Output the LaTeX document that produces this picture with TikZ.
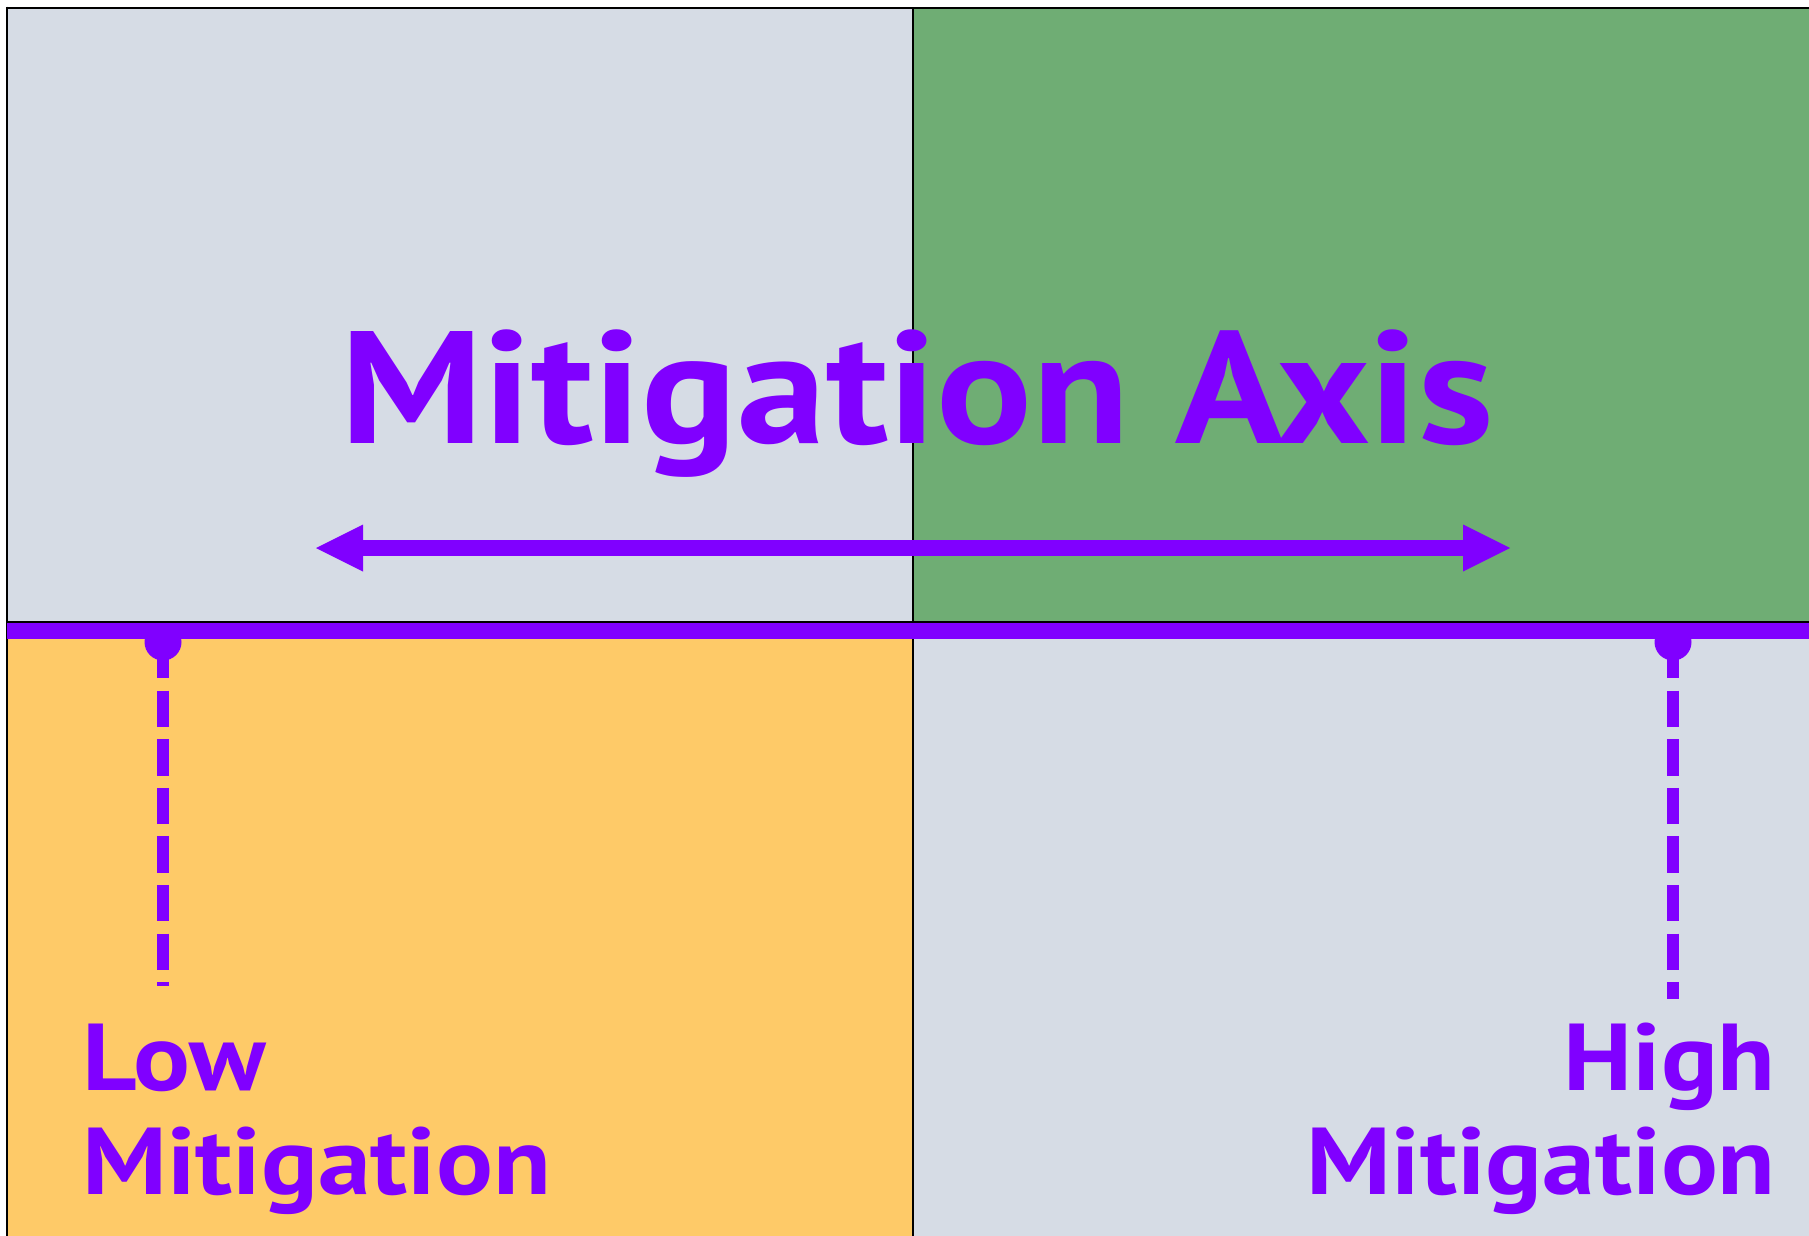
\documentclass[tikz,border=0pt]{standalone}
\usepackage{fontspec}
\setmainfont{PT Sans}[Ligatures=NoCommon, FakeStretch=1.117]
\usetikzlibrary{arrows.meta}
\definecolor{qgray}{HTML}{D6DCE5}
\definecolor{qgreen}{HTML}{6FAD74}
\definecolor{qyellow}{HTML}{FECA68}
\definecolor{mpurple}{HTML}{8000FF}
\tikzset{
  lbl/.style={inner sep=0pt, text=mpurple, font=\bfseries\fontsize{95}{106}\selectfont},
  ttl/.style={inner sep=0pt, text=mpurple, font=\bfseries\fontsize{160}{190}\selectfont},
  frame/.style={draw=black, line width=2.6pt},
  dashline/.style={draw=mpurple, line width=12pt, dash pattern=on 36.3pt off 12.3pt},
  dot/.style={circle, fill=mpurple, inner sep=0pt, minimum size=37pt},
  axisarrow/.style={draw=mpurple, line width=16pt,
    {Triangle[length=47pt,width=47pt,line width=0pt]}-{Triangle[length=47pt,width=47pt,line width=0pt]}}
}
\begin{document}
\begin{tikzpicture}[x=1pt,y=-1pt]
\useasboundingbox (0,0) rectangle (1809,1236);
\fill[white] (0,0) rectangle (1809,1236);
% quadrants
\fill[qgray]   (7,8) rectangle (913,622);
\fill[qgreen]  (913,8) rectangle (1809,622);
\fill[qyellow] (7,622) rectangle (913,1236);
\fill[qgray]   (913,622) rectangle (1809,1236);
% frame and dividers
\draw[frame] (7,8) -- (1809,8);
\draw[frame] (7,6.7) -- (7,1236);
\draw[frame] (913,8) -- (913,1236);
\draw[black, line width=2pt] (7,622) -- (1809,622);
% purple bar
\coordinate (barL) at (7,631);
\coordinate (barR) at (1809,631);
\draw[mpurple, line width=16pt] (barL) -- (barR);
% dots and dashed lines
\node[dot] (dotL) at (163,642) {};
\node[dot] (dotR) at (1673,642) {};
\coordinate (endL) at (163,986);
\coordinate (endR) at (1673,999);
\draw[dashline] (dotL.center) -- (endL);
\draw[dashline] (dotR.center) -- (endR);
% axis arrow
\coordinate (arrL) at (316,548);
\coordinate (arrR) at (1510,548);
\draw[axisarrow] (arrL) -- (arrR);
% title
\node[ttl, anchor=base west] (title) at (340,443) {Mitigation Axis};
% labels
\node[lbl, anchor=base west] (low1) at (82,1090) {Low};
\node[lbl, anchor=base west] (low2) at (82,1194) {Mitigation};
\node[lbl, anchor=base east] (high1) at (1776,1090) {High};
\node[lbl, anchor=base east] (high2) at (1776,1194) {Mitigation};
\end{tikzpicture}
\end{document}
